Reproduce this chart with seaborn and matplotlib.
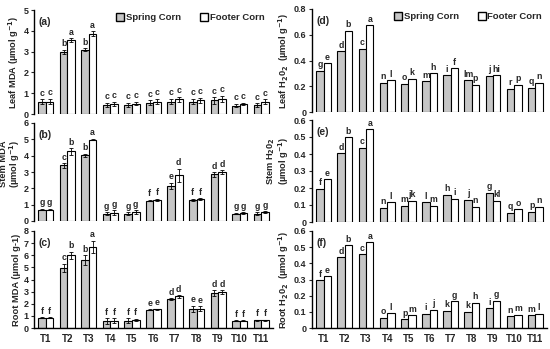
import pandas as pd
import seaborn as sns
import matplotlib.pyplot as plt
from matplotlib.lines import Line2D

treatments = ["T1", "T2", "T3", "T4", "T5", "T6", "T7", "T8", "T9", "T10", "T11"]

# (a) Leaf MDA
leaf_mda_spring = [0.6, 3.0, 3.1, 0.45, 0.45, 0.55, 0.6, 0.6, 0.65, 0.4, 0.42]
leaf_mda_footer = [0.6, 3.55, 3.85, 0.5, 0.5, 0.6, 0.7, 0.65, 0.72, 0.5, 0.6]
leaf_mda_spring_err = [0.1, 0.1, 0.05, 0.1, 0.1, 0.12, 0.12, 0.12, 0.15, 0.08, 0.1]
leaf_mda_footer_err = [0.12, 0.1, 0.12, 0.1, 0.08, 0.12, 0.12, 0.12, 0.15, 0.05, 0.1]
leaf_mda_spring_let = ["c", "b", "b", "c", "c", "c", "c", "c", "c", "c", "c"]
leaf_mda_footer_let = ["c", "a", "a", "c", "c", "c", "c", "c", "c", "c", "c"]

# (b) Stem MDA
stem_mda_spring = [0.7, 3.4, 4.02, 0.45, 0.45, 1.25, 2.15, 1.3, 2.85, 0.45, 0.45]
stem_mda_footer = [0.7, 4.27, 4.98, 0.5, 0.55, 1.3, 2.8, 1.35, 3.0, 0.5, 0.55]
stem_mda_spring_err = [0.05, 0.15, 0.1, 0.1, 0.1, 0.05, 0.2, 0.05, 0.15, 0.05, 0.1]
stem_mda_footer_err = [0.05, 0.2, 0.05, 0.15, 0.1, 0.05, 0.4, 0.05, 0.1, 0.05, 0.05]
stem_mda_spring_let = ["g", "c", "b", "g", "g", "f", "e", "f", "d", "g", "g"]
stem_mda_footer_let = ["g", "b", "a", "g", "g", "f", "d", "f", "d", "g", "g"]

# (c) Root MDA
root_mda_spring = [0.85, 4.95, 5.6, 0.55, 0.6, 1.5, 2.4, 1.6, 2.85, 0.6, 0.65]
root_mda_footer = [0.85, 6.0, 6.7, 0.6, 0.65, 1.55, 2.6, 1.6, 2.95, 0.6, 0.65]
root_mda_spring_err = [0.05, 0.35, 0.4, 0.25, 0.2, 0.05, 0.05, 0.25, 0.25, 0.05, 0.05]
root_mda_footer_err = [0.05, 0.3, 0.5, 0.2, 0.1, 0.05, 0.1, 0.2, 0.15, 0.05, 0.05]
root_mda_spring_let = ["f", "c", "b", "f", "f", "e", "d", "e", "d", "f", "f"]
root_mda_footer_let = ["f", "b", "a", "f", "f", "e", "d", "e", "d", "f", "f"]

# (d) Leaf H2O2
leaf_h2o2_spring = [0.32, 0.47, 0.49, 0.226, 0.22, 0.24, 0.285, 0.247, 0.28, 0.18, 0.187]
leaf_h2o2_footer = [0.38, 0.63, 0.675, 0.247, 0.26, 0.30, 0.34, 0.213, 0.285, 0.213, 0.228]
leaf_h2o2_spring_let = ["g", "d", "c", "n", "o", "m", "i", "lm", "j", "r", "q"]
leaf_h2o2_footer_let = ["e", "b", "a", "l", "k", "h", "f", "p", "hi", "p", "n"]

# (e) Stem H2O2
stem_h2o2_spring = [0.195, 0.404, 0.437, 0.085, 0.096, 0.116, 0.161, 0.132, 0.171, 0.055, 0.061]
stem_h2o2_footer = [0.252, 0.498, 0.545, 0.116, 0.124, 0.096, 0.136, 0.089, 0.124, 0.075, 0.089]
stem_h2o2_spring_let = ["f", "d", "c", "n", "m", "l", "h", "j", "g", "q", "p"]
stem_h2o2_footer_let = ["e", "b", "a", "l", "jk", "m", "i", "n", "kl", "o", "n"]

# (f) Root H2O2
root_h2o2_spring = [0.294, 0.439, 0.457, 0.063, 0.055, 0.088, 0.106, 0.102, 0.122, 0.073, 0.08]
root_h2o2_footer = [0.32, 0.512, 0.53, 0.09, 0.08, 0.112, 0.165, 0.155, 0.169, 0.082, 0.088]
root_h2o2_spring_let = ["f", "d", "c", "o", "p", "i", "k", "k", "i", "n", "m"]
root_h2o2_footer_let = ["e", "b", "a", "l", "m", "j", "g", "h", "g", "m", "l"]

sns.set_style("white")
plt.rcParams["font.family"] = ["Liberation Sans", "DejaVu Sans"]
plt.rcParams["font.weight"] = "bold"

SPRING = "#c6c6c6"
FOOTER = "white"


def draw(ax, spring, footer, s_err, f_err, s_let, f_let, ymax, step, ylabel, tag, bottom,
         label_pos=None):
    df = pd.DataFrame({
        "Treatment": treatments * 2,
        "Group": ["Spring Corn"] * 11 + ["Footer Corn"] * 11,
        "Value": spring + footer,
    })
    sns.barplot(data=df, x="Treatment", y="Value", hue="Group",
                palette={"Spring Corn": SPRING, "Footer Corn": FOOTER},
                edgecolor="black", linewidth=0.8, width=0.7, errorbar=None,
                legend=False, ax=ax)
    pad = ymax * 0.015
    for cont, errs, lets in zip(ax.containers, [s_err, f_err], [s_let, f_let]):
        for bar, e, lt in zip(cont, errs, lets):
            x = bar.get_x() + bar.get_width() / 2
            h = bar.get_height()
            if e:
                ax.errorbar(x, h, yerr=e, color="black", lw=0.6, capsize=1.2, capthick=0.6)
            ax.text(x, h + (e or 0) + pad, lt, ha="center", va="bottom",
                    fontsize=6.3, fontweight="bold")
    ax.set_ylim(0, ymax)
    ax.set_xlim(-0.55, 10.55)
    ticks = [round(i * step, 2) for i in range(int(round(ymax / step)) + 1)]
    ax.set_yticks(ticks)
    ax.set_yticklabels([f"{t:g}" for t in ticks], fontsize=6.5, fontweight="bold")
    ax.set_ylabel(ylabel, fontsize=6.7, fontweight="bold", labelpad=2, linespacing=0.9)
    if label_pos is not None:
        ax.yaxis.set_label_coords(*label_pos)
    ax.set_xlabel("")
    ax.tick_params(axis="y", length=2, width=0.8, pad=2, left=True)
    ax.tick_params(axis="x", length=0, pad=4)
    for s in ["top", "right"]:
        ax.spines[s].set_visible(False)
    ax.spines["left"].set_linewidth(1.0)
    ax.spines["left"].set_color("black")
    if bottom:
        ax.spines["bottom"].set_linewidth(1.0)
        ax.spines["bottom"].set_color("black")
        ax.set_xticks(range(11))
        ax.set_xticklabels(treatments, fontsize=7, fontweight="bold")
    else:
        ax.spines["bottom"].set_visible(False)
        ax.set_xticks([])
    ax.text(0.02, 0.93, tag, transform=ax.transAxes, fontsize=7.5,
            fontweight="bold", va="top")


fig = plt.figure(figsize=(5.5, 3.49), dpi=100)
W, H = 550, 349


def axes_px(x0, x1, y0, y1):
    return fig.add_axes([x0 / W, 1 - y1 / H, (x1 - x0) / W, (y1 - y0) / H])


ax_a = axes_px(34, 273, 10, 114)
ax_b = axes_px(34, 273, 123, 221)
ax_c = axes_px(34, 273, 231, 328)
ax_d = axes_px(312, 547, 9, 112)
ax_e = axes_px(312, 547, 120, 222)
ax_f = axes_px(312, 547, 231, 328)

draw(ax_a, leaf_mda_spring, leaf_mda_footer, leaf_mda_spring_err, leaf_mda_footer_err,
     leaf_mda_spring_let, leaf_mda_footer_let, 5, 1, "Leaf MDA (µmol g$^{-1}$)", "(a)", False)
draw(ax_b, stem_mda_spring, stem_mda_footer, stem_mda_spring_err, stem_mda_footer_err,
     stem_mda_spring_let, stem_mda_footer_let, 6, 1, "Stem MDA\n(µmol g$^{-1}$)", "(b)", False,
     label_pos=(-0.05, 0.58))
draw(ax_c, root_mda_spring, root_mda_footer, root_mda_spring_err, root_mda_footer_err,
     root_mda_spring_let, root_mda_footer_let, 8, 1, "Root MDA (µmol g-1)", "(c)", True)

none = [0] * 11
draw(ax_d, leaf_h2o2_spring, leaf_h2o2_footer, none, none,
     leaf_h2o2_spring_let, leaf_h2o2_footer_let, 0.8, 0.2, "Leaf H$_2$0$_2$  (µmol g$^{-1}$)", "(d)", False)
draw(ax_e, stem_h2o2_spring, stem_h2o2_footer, none, none,
     stem_h2o2_spring_let, stem_h2o2_footer_let, 0.6, 0.1, "Stem H$_2$0$_2$\n(µmol g$^{-1}$)", "(e)", False,
     label_pos=(-0.09, 0.6))
draw(ax_f, root_h2o2_spring, root_h2o2_footer, none, none,
     root_h2o2_spring_let, root_h2o2_footer_let, 0.6, 0.1, "Root H$_2$0$_2$  (µmol g$^{-1}$)", "(f)", True)

handles = [
    Line2D([], [], marker="s", linestyle="", markerfacecolor=SPRING, markeredgecolor="black",
           markersize=5.5, markeredgewidth=1.0, label="Spring Corn"),
    Line2D([], [], marker="s", linestyle="", markerfacecolor=FOOTER, markeredgecolor="black",
           markersize=5.5, markeredgewidth=1.0, label="Footer Corn"),
]
for ax, x0 in [(ax_a, 0.33), (ax_d, 0.335)]:
    ax.legend(handles=handles, loc="upper left", bbox_to_anchor=(x0, 0.99), ncol=2,
              frameon=False, handletextpad=0.0, columnspacing=1.8, handlelength=1.2,
              borderaxespad=0.0, borderpad=0.2, prop={"weight": "bold", "size": 6.8})

fig.savefig("out.png", dpi=100)
